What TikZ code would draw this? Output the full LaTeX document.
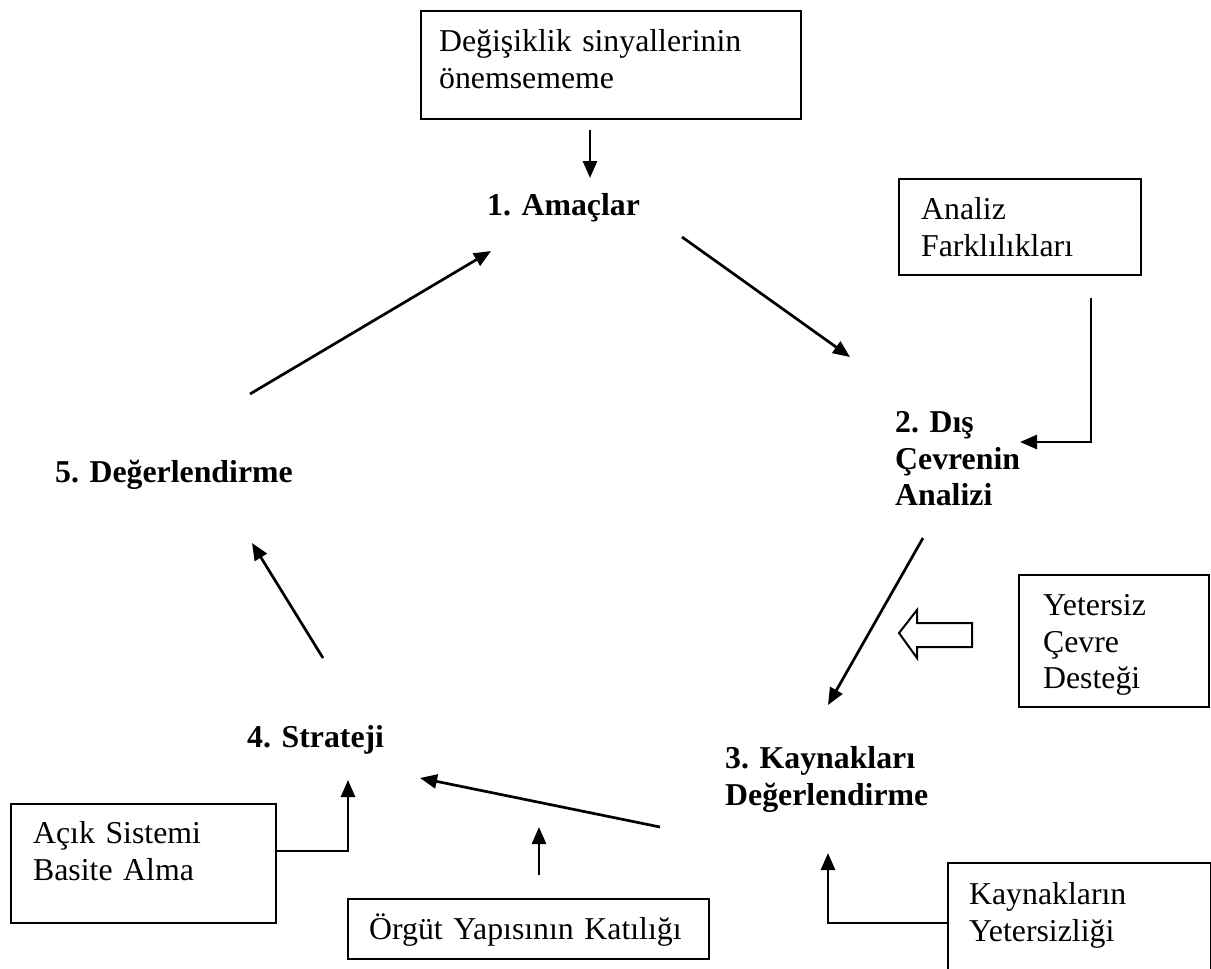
\documentclass[tikz,border=0pt]{standalone}
\usepackage{fontspec}
\setmainfont{Liberation Serif}
\usetikzlibrary{arrows.meta}

% 12pt body type at the picture's scale, and struts that fix line heights/depths
\newcommand\bodysize{\fontsize{31.8}{36.8}\selectfont}
\newcommand\hstrut[1]{\rule{0pt}{#1pt}}
\newcommand\dstrut[1]{\rule[-#1pt]{0pt}{0pt}}

\tikzset{
  frame/.style={draw, line width=2.3pt, anchor=north west, align=left,
                inner ysep=0pt, font=\bodysize},
  stage/.style={inner sep=0pt, anchor=north west, align=left,
                font=\bodysize\bfseries},
  link/.style={line width=2.7pt, -{Triangle[length=17pt,width=14pt]}},
  hollow/.style={draw, line width=2pt, fill=white, line join=miter},
}

\begin{document}
\begin{tikzpicture}[x=1pt, y=-1pt]
  \useasboundingbox (0,0) rectangle (1211,969);
  \clip (0,0) rectangle (1211,969);
  \fill[white] (0,0) rectangle (1211,969);

  % ---- stages of the cycle ----
  \node[stage] (amac) at (487,189) {\hstrut{26}1. Amaçlar};
  \node[stage] (dis)  at (895,406) {\hstrut{26}2. Dış\\Çevrenin\\Analizi};
  \node[stage] (kayn) at (725,742) {\hstrut{26}3. Kaynakları\\Değerlendirme};
  \node[stage] (strat) at (247,721) {\hstrut{26}4. Strateji};
  \node[stage] (deger) at (55,456) {\hstrut{26}5. Değerlendirme};

  % ---- obstacle boxes ----
  \node[frame, minimum height=108pt, inner xsep=18pt, text width=344pt] (sinyal) at (420,10)
    {\hstrut{26}Değişiklik sinyallerinin\\önemsememe\dstrut{17}};
  \node[frame, minimum height=96pt, inner xsep=22pt, text width=198pt] (fark) at (898,178)
    {\hstrut{26}Analiz\\Farklılıkları\dstrut{5}};
  \node[frame, minimum height=132pt, inner xsep=24pt, text width=142pt] (cevre) at (1018,574)
    {\hstrut{30}Yetersiz\\Çevre\\Desteği\dstrut{8}};
  \node[frame, minimum height=130pt, inner xsep=21pt, text width=221pt] (yetersiz) at (947,862)
    {\hstrut{26}Kaynakların\\Yetersizliği\dstrut{37}};
  \node[frame, minimum height=119pt, inner xsep=22pt, text width=221pt] (acik) at (10,803)
    {\hstrut{26}Açık Sistemi\\Basite Alma\dstrut{29}};
  \node[frame, minimum height=60pt, inner xsep=21pt, text width=319pt] (orgut) at (347,898)
    {\hstrut{28}Örgüt Yapısının Katılığı\dstrut{8}};

  % ---- connector end points ----
  \coordinate (sinyal-out) at (590,130);
  \coordinate (amac-in)    at (590,178);
  \coordinate (amac-out)   at (682,237);
  \coordinate (dis-in)     at (850,357);
  \coordinate (dis-out)    at (923,538);
  \coordinate (kayn-in)    at (828,705);
  \coordinate (kayn-out)   at (660,827);
  \coordinate (strat-in)   at (420,778);
  \coordinate (strat-out)  at (323,658);
  \coordinate (deger-in)   at (252,543);
  \coordinate (deger-out)  at (250,394);
  \coordinate (amac-back)  at (491,251);
  \coordinate (fark-out)   at (1091,298);
  \coordinate (dis-side)   at (1020,442);
  \coordinate (y923)       at (0,923);
  \coordinate (kayn-low)   at (828,853);
  \coordinate (y851)       at (0,851);
  \coordinate (strat-low)  at (348,780);
  \coordinate (orgut-out)  at (539,875);
  \coordinate (orgut-in)   at (539,827);

  % ---- the cycle ----
  \draw[link] (amac-out) -- (dis-in);
  \draw[link] (dis-out) -- (kayn-in);
  \draw[link] (kayn-out) -- (strat-in);
  \draw[link] (strat-out) -- (deger-in);
  \draw[link] (deger-out) -- (amac-back);

  % ---- influences from the boxes ----
  \draw[link] (sinyal-out) -- (amac-in);
  \draw[link] (fark-out) |- (dis-side);
  \draw[link] (yetersiz.west |- y923) -| (kayn-low);
  \draw[link] (acik.east |- y851) -| (strat-low);
  \draw[link] (orgut-out) -- (orgut-in);

  % block arrow from the support box
  \draw[hollow] (899,633) -- (917,610) -- (917,623) -- (972,623)
    -- (972,647) -- (917,647) -- (917,658) -- cycle;
\end{tikzpicture}
\end{document}
